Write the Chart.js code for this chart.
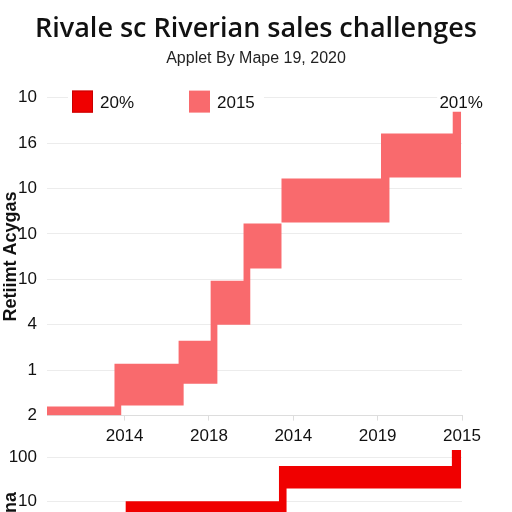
<!DOCTYPE html>
<html>
<head>
<meta charset="utf-8">
<script src="https://cdn.jsdelivr.net/npm/chart.js@4/dist/chart.umd.min.js"></script>
<style>
  html, body { margin: 0; padding: 0; background: #fff; overflow: hidden; }
  body { width: 512px; height: 512px; position: relative; }
  #top { position: absolute; left: 0; top: 0; width: 512px; height: 456px; }
  #bottom { position: absolute; left: 0; top: 428px; width: 512px; height: 226px; }
</style>
</head>
<body>
<div id="top"><canvas id="topChart"></canvas></div>
<div id="bottom"><canvas id="bottomChart"></canvas></div>
<script>
// Texts
const chartTitle = 'Rivale sc Riverian sales challenges';
const chartSubtitle = 'Applet By Mape 19, 2020';
const topAxisTitle = 'Retiimt Acygas';
const bottomAxisTitle = 'Retiimt Ifna';
const legendLabels = ['20%', '2015'];
const peakLabel = '201%';

// Tick labels (index = tick value)
const xTickLabels = ['', '2014', '2018', '2014', '2019', '2015'];
const yTickLabels = ['2', '1', '4', '10', '10', '10', '16', '10'];
const lowerTickLabels = ['', '', '1', '10', '1', '10', '100'];

// Pink band steps (top chart): start, end, low, high
const stepStart = [0.08, 0.88, 1.64, 2.02, 2.41, 2.86, 4.04, 4.89];
const stepEnd   = [0.96, 1.70, 2.10, 2.49, 2.86, 4.14, 4.99, 4.99];
const stepLow   = [0.00, 0.22, 0.70, 2.00, 3.24, 4.25, 5.24, 6.16];
const stepHigh  = [0.20, 1.14, 1.65, 2.97, 4.23, 5.22, 6.21, 6.69];

// Red band steps (bottom chart)
const redStart = [1.01, 2.83, 4.88];
const redEnd   = [2.92, 4.99, 4.99];
const redLow   = [4.30, 5.29, 5.96];
const redHigh  = [5.00, 5.80, 6.16];

const pinkColor = '#f96a6d';
const redColor = '#f00000';
const tickFont = { family: '"Liberation Sans", Arial, sans-serif', size: 17 };

// Upper and lower outline of the steps, with square corners
function bandEdges(start, end, low, high) {
  const n = start.length;
  const upper = [{ x: start[0], y: high[0] }];
  for (let i = 1; i < n; i++) {
    upper.push({ x: start[i], y: high[i - 1] }, { x: start[i], y: high[i] });
  }
  upper.push({ x: end[n - 1], y: high[n - 1] });
  const lower = [{ x: start[0], y: low[0] }];
  for (let i = 0; i < n - 1; i++) {
    lower.push({ x: end[i], y: low[i] }, { x: end[i], y: low[i + 1] });
  }
  lower.push({ x: end[n - 1], y: low[n - 1] });
  return { upper, lower };
}

function bandDatasets(edges, color) {
  const base = { pointRadius: 0, borderWidth: 0, borderColor: 'transparent', tension: 0 };
  return [
    Object.assign({ data: edges.lower, fill: false }, base),
    Object.assign({ data: edges.upper, fill: '-1', backgroundColor: color }, base)
  ];
}

function fixedTicks(values) {
  return (scale) => { scale.ticks = values.map(v => ({ value: v })); };
}

// Empty right-hand axis so the title stays centred on the page
const spacerAxis = {
  position: 'right', display: true,
  grid: { display: false }, border: { display: false },
  ticks: { display: false },
  afterFit: (scale) => { scale.width = 50; }
};

// Legend boxes and the label over the last step
const topDecor = {
  id: 'topDecor',
  afterDraw(chart) {
    const { ctx, chartArea, scales } = chart;
    const y = chartArea.top + 6;
    ctx.save();
    ctx.fillStyle = '#fff';
    ctx.fillRect(chartArea.left + 21, chartArea.top - 8, 196, 28);
    ctx.font = '17px "Liberation Sans", Arial, sans-serif';
    ctx.textBaseline = 'middle';
    const colors = [redColor, pinkColor];
    const offsets = [25, 142];
    legendLabels.forEach((label, i) => {
      const bx = chartArea.left + offsets[i];
      ctx.fillStyle = colors[i];
      ctx.fillRect(bx, y - 13, 21, 22);
      if (i === 0) {
        ctx.strokeStyle = '#c80000';
        ctx.lineWidth = 1;
        ctx.strokeRect(bx + 0.5, y - 12.5, 20, 21);
      }
      ctx.fillStyle = '#111';
      ctx.textAlign = 'left';
      ctx.fillText(label, bx + 28, y);
    });
    const px = scales.x.getPixelForValue(stepEnd[stepEnd.length - 1]);
    ctx.fillStyle = '#fff';
    ctx.fillRect(px - 24, chartArea.top - 8, 48, 20);
    ctx.fillStyle = '#111';
    ctx.textAlign = 'center';
    ctx.fillText(peakLabel, px, y);
    ctx.restore();
  }
};

new Chart(document.getElementById('topChart'), {
  type: 'line',
  data: { datasets: bandDatasets(bandEdges(stepStart, stepEnd, stepLow, stepHigh), pinkColor) },
  options: {
    responsive: true,
    maintainAspectRatio: false,
    animation: false,
    events: [],
    layout: { padding: { left: 0, right: 0, top: 0, bottom: 3 } },
    plugins: {
      legend: { display: false },
      tooltip: { enabled: false },
      title: {
        display: true, text: chartTitle, color: '#111',
        font: { family: '"Open Sans", sans-serif', size: 27, weight: '600' },
        padding: { top: 13, bottom: 4 }
      },
      subtitle: {
        display: true, text: chartSubtitle, color: '#222',
        font: { family: '"Liberation Sans", Arial, sans-serif', size: 16 },
        padding: { top: 0, bottom: 29 }
      }
    },
    scales: {
      x: {
        type: 'linear', min: 0.08, max: 5,
        afterBuildTicks: fixedTicks([1, 2, 3, 4, 5]),
        grid: { drawOnChartArea: false, tickLength: 5, color: '#ddd' },
        border: { color: '#ddd' },
        ticks: { callback: v => xTickLabels[v], font: tickFont, color: '#111', padding: 6, maxRotation: 0, autoSkip: false }
      },
      y: {
        type: 'linear', min: 0, max: 7,
        afterBuildTicks: fixedTicks([0, 1, 2, 3, 4, 5, 6, 7]),
        afterFit: (scale) => { scale.width = 47; },
        grid: { color: '#ececec', drawTicks: false },
        border: { display: false },
        ticks: { callback: v => yTickLabels[v], font: tickFont, color: '#111', padding: 10 },
        title: {
          display: true, text: topAxisTitle, color: '#111', padding: 0,
          font: { family: '"Liberation Sans", Arial, sans-serif', size: 18, weight: 'bold' }
        }
      },
      yRight: spacerAxis
    }
  },
  plugins: [topDecor]
});

new Chart(document.getElementById('bottomChart'), {
  type: 'line',
  data: { datasets: bandDatasets(bandEdges(redStart, redEnd, redLow, redHigh), redColor) },
  options: {
    responsive: true,
    maintainAspectRatio: false,
    animation: false,
    events: [],
    layout: { padding: { left: 0, right: 0, top: 9, bottom: 0 } },
    plugins: { legend: { display: false }, tooltip: { enabled: false } },
    scales: {
      x: { type: 'linear', min: 0.08, max: 5, display: false },
      y: {
        type: 'linear', min: 2, max: 6.2,
        afterBuildTicks: fixedTicks([2, 3, 4, 5, 6]),
        afterFit: (scale) => { scale.width = 47; },
        grid: { color: '#ececec', drawTicks: false },
        border: { display: false },
        ticks: { callback: v => lowerTickLabels[v], font: tickFont, color: '#111', padding: 10 },
        title: {
          display: true, text: bottomAxisTitle, color: '#111', padding: 0,
          font: { family: '"Liberation Sans", Arial, sans-serif', size: 18, weight: 'bold' }
        }
      },
      yRight: spacerAxis
    }
  }
});
</script>
</body>
</html>
